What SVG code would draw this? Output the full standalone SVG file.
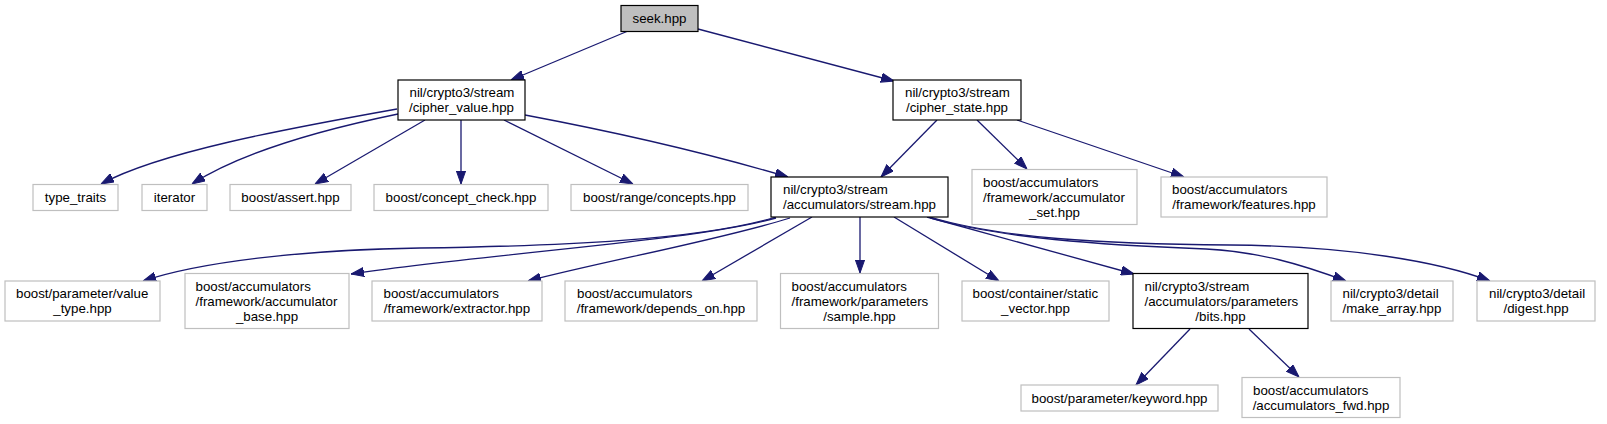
<svg xmlns="http://www.w3.org/2000/svg" width="1607" height="424" viewBox="0 0 1607 424">
<style>
text{font-family:"Liberation Sans",Arial,Helvetica,sans-serif;font-size:13.3px;fill:#000}
.c{text-anchor:middle}
.n rect{fill:#fff;stroke:#000;stroke-width:1.2}
.g rect{fill:#fff;stroke:#bfbfbf;stroke-width:1.2}
.root rect{fill:#bfbfbf;stroke:#000;stroke-width:1.2}
#edges path{fill:none;stroke:#191970;stroke-width:1.3;marker-end:url(#ah)}
</style>
<defs>
<marker id="ah" viewBox="0 0 13 10" refX="13" refY="5" markerWidth="13" markerHeight="10" markerUnits="userSpaceOnUse" orient="auto">
<path d="M0,0.4 L13,5 L0,9.6 z" fill="#191970" stroke="#191970" stroke-width="1"/>
</marker>
</defs>
<rect width="1607" height="424" fill="#fff"/>
<g id="edges">
<path d="M628,31 L511,80"/>
<path d="M698,29 L894,81"/>
<path d="M397,109 C285,129 160,152 101,184"/>
<path d="M398,114 C330,128 245,150 192,184"/>
<path d="M425,120 L315,184"/>
<path d="M461,120 L461,184"/>
<path d="M504,120 L633,184"/>
<path d="M525,115 C610,131 700,151 788,177"/>
<path d="M937,120 L881,177"/>
<path d="M977,120 L1027,169"/>
<path d="M1017,120 L1184,177"/>
<path d="M776,217 C700,240 560,246 420,248 C300,250 200,262 143,281"/>
<path d="M776,218 C690,242 480,254 351,274"/>
<path d="M790,218 C720,240 600,262 528,281"/>
<path d="M812,217 L702,281"/>
<path d="M860,217 L860,273"/>
<path d="M894,217 L999,281"/>
<path d="M927,217 L1134,274"/>
<path d="M930,218 C1000,238 1100,245 1206,249 C1260,252 1300,264 1346,281"/>
<path d="M930,217 C1000,238 1100,244 1230,245 C1350,246 1440,262 1490,281"/>
<path d="M1190,329 L1136,385"/>
<path d="M1249,329 L1299,377"/>
</g>
<g id="seek" class="root"><rect x="621" y="5.5" width="77" height="26"/><text class="c" x="659.5" y="23">seek.hpp</text></g>
<g id="cipher_value" class="n"><rect x="398" y="80" width="127" height="40"/><text x="409.5" y="97">nil/crypto3/stream</text><text class="c" x="461.5" y="112">/cipher_value.hpp</text></g>
<g id="cipher_state" class="n"><rect x="893" y="80" width="128" height="40"/><text x="905" y="97">nil/crypto3/stream</text><text class="c" x="957" y="112">/cipher_state.hpp</text></g>
<g id="type_traits" class="g"><rect x="33" y="184.5" width="85" height="26"/><text class="c" x="75.5" y="202">type_traits</text></g>
<g id="iterator" class="g"><rect x="142" y="184.5" width="65" height="26"/><text class="c" x="174.5" y="202">iterator</text></g>
<g id="assert" class="g"><rect x="230" y="184.5" width="121" height="26"/><text class="c" x="290.5" y="202">boost/assert.hpp</text></g>
<g id="concept_check" class="g"><rect x="374" y="184.5" width="174" height="26"/><text class="c" x="461" y="202">boost/concept_check.hpp</text></g>
<g id="range_concepts" class="g"><rect x="571" y="184.5" width="177" height="26"/><text class="c" x="659.5" y="202">boost/range/concepts.hpp</text></g>
<g id="stream" class="n"><rect x="771" y="177" width="177" height="40"/><text x="783" y="194">nil/crypto3/stream</text><text class="c" x="859.5" y="209">/accumulators/stream.hpp</text></g>
<g id="accumulator_set" class="g"><rect x="972" y="169.5" width="165" height="55"/><text x="983" y="186.5">boost/accumulators</text><text x="983" y="201.5">/framework/accumulator</text><text class="c" x="1054.5" y="216.5">_set.hpp</text></g>
<g id="features" class="g"><rect x="1161" y="177" width="166" height="40"/><text x="1172" y="194">boost/accumulators</text><text class="c" x="1244" y="209">/framework/features.hpp</text></g>
<g id="value_type" class="g"><rect x="5" y="281" width="155" height="40"/><text x="16" y="298">boost/parameter/value</text><text class="c" x="82.5" y="313">_type.hpp</text></g>
<g id="accumulator_base" class="g"><rect x="185" y="273.5" width="164" height="55"/><text x="195.5" y="290.5">boost/accumulators</text><text x="195.5" y="305.5">/framework/accumulator</text><text class="c" x="267" y="320.5">_base.hpp</text></g>
<g id="extractor" class="g"><rect x="372" y="281" width="170" height="40"/><text x="383.5" y="298">boost/accumulators</text><text class="c" x="457" y="313">/framework/extractor.hpp</text></g>
<g id="depends_on" class="g"><rect x="565" y="281" width="192" height="40"/><text x="577" y="298">boost/accumulators</text><text class="c" x="661" y="313">/framework/depends_on.hpp</text></g>
<g id="sample" class="g"><rect x="780.5" y="273.5" width="158" height="55"/><text x="791.5" y="290.5">boost/accumulators</text><text x="791.5" y="305.5">/framework/parameters</text><text class="c" x="859.5" y="320.5">/sample.hpp</text></g>
<g id="static_vector" class="g"><rect x="962" y="281" width="147" height="40"/><text x="972.5" y="298">boost/container/static</text><text class="c" x="1035.5" y="313">_vector.hpp</text></g>
<g id="bits" class="n"><rect x="1133" y="273.5" width="175" height="55"/><text x="1144.5" y="290.5">nil/crypto3/stream</text><text x="1144.5" y="305.5">/accumulators/parameters</text><text class="c" x="1220.5" y="320.5">/bits.hpp</text></g>
<g id="make_array" class="g"><rect x="1331" y="281" width="122" height="40"/><text x="1342.5" y="298">nil/crypto3/detail</text><text class="c" x="1392" y="313">/make_array.hpp</text></g>
<g id="digest" class="g"><rect x="1477" y="281" width="118" height="40"/><text x="1489" y="298">nil/crypto3/detail</text><text class="c" x="1536" y="313">/digest.hpp</text></g>
<g id="keyword" class="g"><rect x="1021" y="385" width="197" height="26"/><text class="c" x="1119.5" y="402.5">boost/parameter/keyword.hpp</text></g>
<g id="accumulators_fwd" class="g"><rect x="1242" y="377.5" width="158" height="40"/><text x="1253" y="394.5">boost/accumulators</text><text class="c" x="1321" y="409.5">/accumulators_fwd.hpp</text></g>
</svg>
